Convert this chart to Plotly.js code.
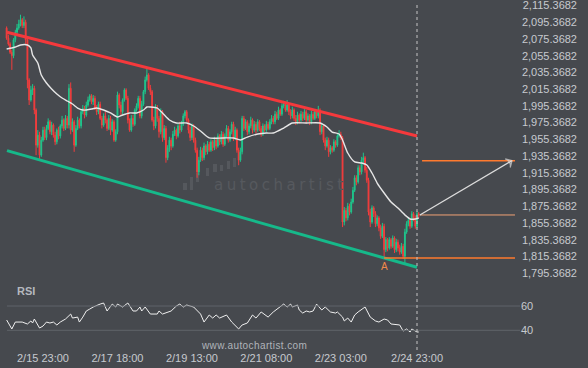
<!DOCTYPE html>
<html><head><meta charset="utf-8">
<script src="https://cdn.plot.ly/plotly-3.0.1.min.js"></script>
<style>html,body{margin:0;padding:0;background:#46494e;overflow:hidden}#chart{width:588px;height:368px}</style>
</head><body><div id="chart"></div>
<script>
// ---------- DATA ----------
const startTimeUTC = Date.UTC(2024, 1, 15, 2, 0); // first hourly candle
const firstOpen = 2086;
const closes = [2074,2067,2057,2053,2072,2081,2086,2091,2096,2089,2093,2072,2024,2000,2012,2014,1988,1946,1958,1934,
1952,1964,1955,1966,1974,1962,1970,1958,1950,1964,1957,1969,1976,1966,1978,1970,2014,1964,1974,1946,
1966,1976,1969,1986,1990,1982,1994,2000,2005,1998,2002,1990,1986,1995,1978,1970,1981,1976,1966,1978,
1964,1974,1952,1962,2006,1994,1986,2000,2012,2002,1976,1964,1978,1971,1988,1993,2002,1981,1995,2010,
2024,2030,2014,2010,1976,1969,1990,1978,1962,1986,1955,1966,1931,1943,1952,1945,1959,1964,1957,1969,
1964,1971,1981,1986,1976,1964,1955,1969,1952,1940,1914,1928,1940,1931,1945,1938,1947,1940,1950,1943,
1952,1945,1957,1950,1959,1947,1957,1966,1952,1962,1971,1955,1964,1940,1928,1938,1978,1966,1974,1962,
1969,1976,1964,1971,1964,1974,1966,1959,1969,1964,1971,1966,1974,1978,1974,1983,1978,1988,1983,1993,
1995,1988,1994,1986,1981,1988,1978,1974,1982,1976,1983,1978,1986,1976,1981,1974,1983,1978,1986,1981,
1988,1962,1969,1952,1945,1952,1938,1943,1940,1950,1946,1957,1959,1955,1854,1868,1859,1873,1866,1878,
1892,1907,1902,1919,1914,1928,1931,1916,1904,1866,1854,1871,1864,1852,1859,1847,1837,1849,1821,1833,
1823,1833,1825,1835,1821,1830,1823,1818,1825,1813,1842,1852,1856,1849,1864,1859,1849,1864,1862];
const highs = [2088,2078,2069,2060,2074,2084,2091,2096,2102,2098,2100,2096,2074,2026,2017,2019,2017,1990,1964,1962,
1956,1968,1968,1970,1978,1976,1974,1972,1962,1966,1968,1971,1981,1978,1982,1981,2019,2021,1978,1976,
1970,1980,1978,1988,1994,1993,1998,2004,2007,2007,2006,2005,1994,1998,1998,1981,1984,1986,1978,1982,
1981,1977,1976,1965,2010,2008,1998,2002,2014,2014,2005,1978,1982,1982,1990,1996,2005,2005,1999,2012,
2028,2038,2032,2018,2012,1980,1995,1994,1981,1990,1988,1970,1969,1946,1956,1955,1963,1968,1966,1972,
1974,1975,1984,1988,1988,1978,1968,1972,1971,1955,1943,1932,1944,1943,1949,1947,1951,1950,1953,1952,
1956,1955,1960,1959,1963,1962,1960,1970,1969,1965,1974,1974,1968,1966,1943,1943,1981,1981,1977,1976,
1972,1980,1978,1975,1974,1977,1976,1969,1972,1971,1975,1974,1977,1982,1981,1987,1986,1992,1990,1996,
1999,1998,2000,1996,1989,1992,1990,1982,1986,1984,1987,1986,1989,1988,1984,1983,1987,1986,1989,1988,
1993,1990,1972,1971,1955,1956,1955,1946,1945,1953,1952,1960,1964,1962,1957,1872,1871,1877,1876,1882,
1896,1910,1910,1922,1922,1932,1937,1933,1920,1907,1870,1874,1873,1867,1862,1861,1851,1853,1852,1836,
1835,1836,1835,1838,1837,1834,1833,1827,1829,1828,1846,1855,1860,1859,1867,1866,1862,1867,1866];
const lows = [2072,2065,2055,2036,2050,2069,2079,2084,2088,2086,2086,2067,2014,1994,1998,2006,1983,1934,1943,1929,
1932,1950,1952,1952,1964,1959,1958,1955,1946,1947,1953,1954,1966,1963,1964,1966,1966,1959,1962,1938,
1944,1964,1966,1966,1983,1978,1980,1992,1998,1995,1994,1988,1982,1983,1976,1966,1968,1972,1963,1964,
1958,1962,1950,1950,1959,1990,1982,1983,1998,2000,1972,1962,1962,1968,1969,1986,1990,1978,1978,1993,
2007,2022,2012,2006,1974,1964,1966,1974,1955,1959,1950,1952,1925,1928,1938,1940,1943,1957,1953,1955,
1960,1962,1969,1978,1974,1960,1951,1952,1949,1937,1907,1910,1926,1927,1928,1934,1935,1938,1938,1939,
1940,1941,1943,1946,1947,1944,1945,1955,1949,1950,1959,1951,1952,1937,1922,1926,1935,1963,1964,1958,
1959,1966,1960,1962,1960,1962,1963,1956,1957,1962,1962,1964,1964,1971,1971,1971,1976,1976,1981,1981,
1990,1986,1986,1982,1977,1978,1975,1970,1971,1972,1974,1975,1976,1972,1974,1970,1971,1976,1976,1978,
1978,1958,1959,1949,1940,1943,1932,1935,1937,1938,1943,1944,1955,1952,1848,1850,1855,1856,1862,1864,
1876,1890,1898,1900,1910,1911,1925,1913,1901,1862,1848,1852,1860,1848,1849,1843,1834,1835,1811,1818,
1819,1821,1822,1823,1817,1818,1819,1815,1816,1810,1804,1840,1849,1846,1847,1855,1846,1847,1859];

// moving average, read at candle indices
const maIndex = [0,3,5,8,12,14,15,18,20,23,26,29,32,35,38,41,44,46,49,52,56,60,64,67,71,75,79,81,83,87,90,94,98,104,108,112,117,125,131,135,139,145,150,154,160,165,173,181,185,188,192,194,197,201,205,208,211,214,218,222,226,230,233,236,238];
const maValues = [2061.0,2062.2,2063.4,2065.8,2065.8,2062.2,2053.8,2044.3,2029.9,2020.3,2013.2,2007.2,2002.4,1998.8,1995.2,1990.4,1988.0,1988.0,1989.2,1990.4,1988.0,1984.5,1979.7,1982.1,1984.5,1984.5,1988.0,1991.6,1991.6,1990.4,1984.5,1976.1,1972.5,1972.5,1968.9,1962.9,1954.6,1954.6,1954.6,1952.2,1955.7,1959.3,1960.5,1960.5,1966.5,1972.5,1972.5,1972.5,1967.7,1961.7,1959.3,1952.2,1936.6,1925.9,1924.6,1922.3,1912.7,1900.7,1888.8,1878.0,1870.8,1862.5,1857.7,1857.7,1858.9];

// RSI, read at candle indices
const rsiIndex = [0,3,5,9,12,14,15,16,19,21,23,25,27,29,31,34,37,38,41,42,44,46,48,50,54,56,58,61,63,64,67,70,73,75,77,78,80,83,87,88,90,93,95,98,100,102,104,108,112,114,117,119,121,123,127,130,134,136,139,142,144,147,149,151,154,157,160,162,164,165,168,169,171,173,175,177,179,182,184,187,190,191,194,195,197,199,201,203,205,207,210,213,215,218,220,222,227,229,231,233,234,237,238];
const rsiValues = [48.5,41.1,46.8,46.8,45.2,47.7,46.0,49.3,41.9,43.5,46.8,46.0,46.8,44.4,46.8,49.3,53.4,50.1,50.9,46.8,50.9,55.9,57.5,59.2,61.6,62.5,55.9,61.6,59.2,61.6,59.2,62.5,55.9,55.9,59.2,55.9,59.2,53.4,53.4,55.9,53.4,55.1,55.9,60.0,61.6,59.2,60.8,59.2,53.4,46.8,52.6,50.1,52.6,50.1,52.6,46.8,41.1,44.4,46.0,52.6,50.1,55.1,52.6,50.9,55.1,58.4,61.6,59.2,61.6,59.2,60.8,56.7,54.2,55.9,55.1,55.9,61.6,56.7,59.2,55.1,54.2,55.1,50.9,47.7,50.1,46.8,52.6,55.1,57.5,59.2,50.9,47.7,46.8,49.3,48.5,45.2,44.4,39.4,41.1,38.6,41.1,38.6,38.6];
const rsiLevels = [40, 60];

// channel
const resistanceTimes = ['2024-02-15 02:13', '2024-02-24 23:00'];
const resistancePrices = [2081.0, 1957.0];
const supportTimes = ['2024-02-15 02:13', '2024-02-24 23:00'];
const supportPrices = [1939.4, 1799.9];

// forecast
const currentTime = '2024-02-24 23:00';
const patternLowTime = '2024-02-24 04:00';
const patternLowPrice = 1811.0;
const patternLabel = 'A';
const lastPriceTimes = ['2024-02-25 00:40', '2024-02-27 07:35'];
const lastPrice = 1862.5;
const targetTimes = ['2024-02-25 01:55', '2024-02-27 07:35'];
const targetPrice = 1927.4;
const lowLineTimes = ['2024-02-24 04:00', '2024-02-27 07:35'];
const arrowTimes = ['2024-02-25 00:40', '2024-02-27 05:50'];
const arrowPrices = [1862.5, 1927.4];

// axes
const xTickTimes = ['2024-02-15 23:00','2024-02-17 18:00','2024-02-19 13:00','2024-02-21 08:00','2024-02-23 03:00','2024-02-24 23:00'];
const xTickLabels = ['2/15 23:00','2/17 18:00','2/19 13:00','2/21 08:00','2/23 03:00','2/24 23:00'];
const xRange = ['2024-02-14 22:10', '2024-02-28 21:08'];
const priceRange = [1790.7, 2119.6];
const priceTick0 = 1795.3682, priceStep = 20;
const rsiRange = [27.9, 73.2];

// ---------- BUILD ----------
function t(i){ return new Date(startTimeUTC + i*3600e3).toISOString().slice(0,16).replace('T',' '); }
const times = closes.map((_, i) => t(i));
const opens = [firstOpen].concat(closes.slice(0, -1));

const W = 588, H = 368;
const px = v => v / W, py = v => 1 - v / H;
const FONT = 'Liberation Sans, Arial, sans-serif';
const BG = '#46494e';
const GREEN = '#1fc58c', RED = '#f23d3d', ORANGE = '#ff7a2e';

const traces = [
  { type:'candlestick', x:times, open:opens, high:highs, low:lows, close:closes,
    xaxis:'x', yaxis:'y', whiskerwidth:0,
    increasing:{line:{color:GREEN, width:1}, fillcolor:GREEN},
    decreasing:{line:{color:RED, width:1}, fillcolor:RED}, hoverinfo:'skip' },
  { type:'scatter', mode:'lines', x:maIndex.map(t), y:maValues, line:{color:'#e6e6e6', width:1.4, shape:'spline', smoothing:0.6}, yaxis:'y', hoverinfo:'skip' },
  { type:'scatter', mode:'lines', x:resistanceTimes, y:resistancePrices, line:{color:'#f5393c', width:3}, yaxis:'y', hoverinfo:'skip' },
  { type:'scatter', mode:'lines', x:supportTimes, y:supportPrices, line:{color:'#16b98a', width:3}, yaxis:'y', hoverinfo:'skip' },
  { type:'scatter', mode:'lines', x:targetTimes, y:[targetPrice, targetPrice], line:{color:ORANGE, width:1.5}, yaxis:'y', hoverinfo:'skip' },
  { type:'scatter', mode:'lines', x:lowLineTimes, y:[patternLowPrice, patternLowPrice], line:{color:ORANGE, width:1.5}, yaxis:'y', hoverinfo:'skip' },
  { type:'scatter', mode:'lines', x:lastPriceTimes, y:[lastPrice, lastPrice], line:{color:'#f0a276', width:1}, yaxis:'y', hoverinfo:'skip' },
  { type:'scatter', mode:'lines+markers', x:arrowTimes, y:arrowPrices, line:{color:'#dcdcdc', width:1.3},
    marker:{symbol:['circle','arrow-wide-open'], size:[0,7], angleref:'previous', color:'#dcdcdc', line:{color:'#dcdcdc', width:1.3}},
    yaxis:'y', hoverinfo:'skip' },
  { type:'scatter', mode:'lines', x:rsiIndex.map(t), y:rsiValues, line:{color:'#f0f0f0', width:1}, yaxis:'y2', hoverinfo:'skip' }
];

const wmBars = [[183,187,183,190],[190,193,177,190],[196,199,173,182],[206,209,168,176],[213,217,164,172],[220,223,165,171],[227,230,161,169],[233,236,158,167]];
const shapes = wmBars.map(b => ({type:'rect', xref:'paper', yref:'paper', x0:px(b[0]), x1:px(b[1]), y0:py(b[3]), y1:py(b[2]), fillcolor:'#55585d', line:{width:0}, layer:'below'}));
rsiLevels.forEach(v => shapes.push({type:'line', xref:'paper', yref:'y2', x0:px(7), x1:px(520), y0:v, y1:v, line:{color:'#60646a', width:1}}));
shapes.push({type:'line', xref:'x', yref:'paper', x0:currentTime, x1:currentTime, y0:py(350), y1:py(4), line:{color:'#c4c4c4', width:1, dash:'3px,3px'}});

const layout = {
  width:W, height:H, margin:{l:0, r:0, t:0, b:0},
  paper_bgcolor:BG, plot_bgcolor:BG, showlegend:false, dragmode:false,
  font:{family:FONT, size:11, color:'#c6c9ce'},
  xaxis:{type:'date', domain:[0, 580/W], range:xRange, anchor:'y2', tickvals:xTickTimes, ticktext:xTickLabels,
    showgrid:false, zeroline:false, showline:false, ticks:'', ticklabelstandoff:5, tickfont:{family:FONT, size:11, color:'#c6c9ce'},
    rangeslider:{visible:false}, fixedrange:true},
  yaxis:{domain:[1-275/H, 1], range:priceRange, side:'right', anchor:'x', ticklabelposition:'inside', ticklabeloverflow:'allow',
    ticklabelshift:2, tick0:priceTick0, dtick:priceStep, tickformat:',.4f', showgrid:false, zeroline:false, showline:false, ticks:'',
    tickfont:{family:FONT, size:11, color:'#c6c9ce'}, fixedrange:true},
  yaxis2:{domain:[1-345/H, 1-290/H], range:rsiRange, side:'right', anchor:'free', position:520/W, tickvals:rsiLevels,
    showgrid:false, zeroline:false, showline:false, ticks:'', tickfont:{family:FONT, size:11, color:'#c6c9ce'}, fixedrange:true},
  shapes:shapes,
  annotations:[
    {xref:'paper', yref:'paper', x:px(280), y:py(185), xanchor:'center', yanchor:'middle', text:'autochartist', showarrow:false, font:{family:'DejaVu Sans, sans-serif', size:15, color:'#56595e'}},
    {xref:'paper', yref:'paper', x:px(15), y:py(291), xanchor:'left', yanchor:'middle', text:'<b>RSI</b>', showarrow:false, font:{family:FONT, size:11, color:'#b4b8be'}},
    {xref:'paper', yref:'paper', x:px(254), y:py(345), xanchor:'center', yanchor:'middle', text:'www.autochartist.com', showarrow:false, font:{family:FONT, size:10, color:'#b0b4ba'}},
    {xref:'x', yref:'y', x:patternLowTime, y:patternLowPrice, yanchor:'top', yshift:-1, text:patternLabel, showarrow:false, font:{family:FONT, size:10, color:'#f08a4b'}}
  ]
};

Plotly.newPlot('chart', traces, layout, {displayModeBar:false, staticPlot:true}).then(() => {
  document.querySelectorAll('.annotation-text').forEach(el => {
    if (el.textContent === 'autochartist') el.setAttribute('letter-spacing', '3.5px');
    if (el.textContent === 'www.autochartist.com') el.setAttribute('letter-spacing', '0.4px');
  });
});
</script>
</body></html>
